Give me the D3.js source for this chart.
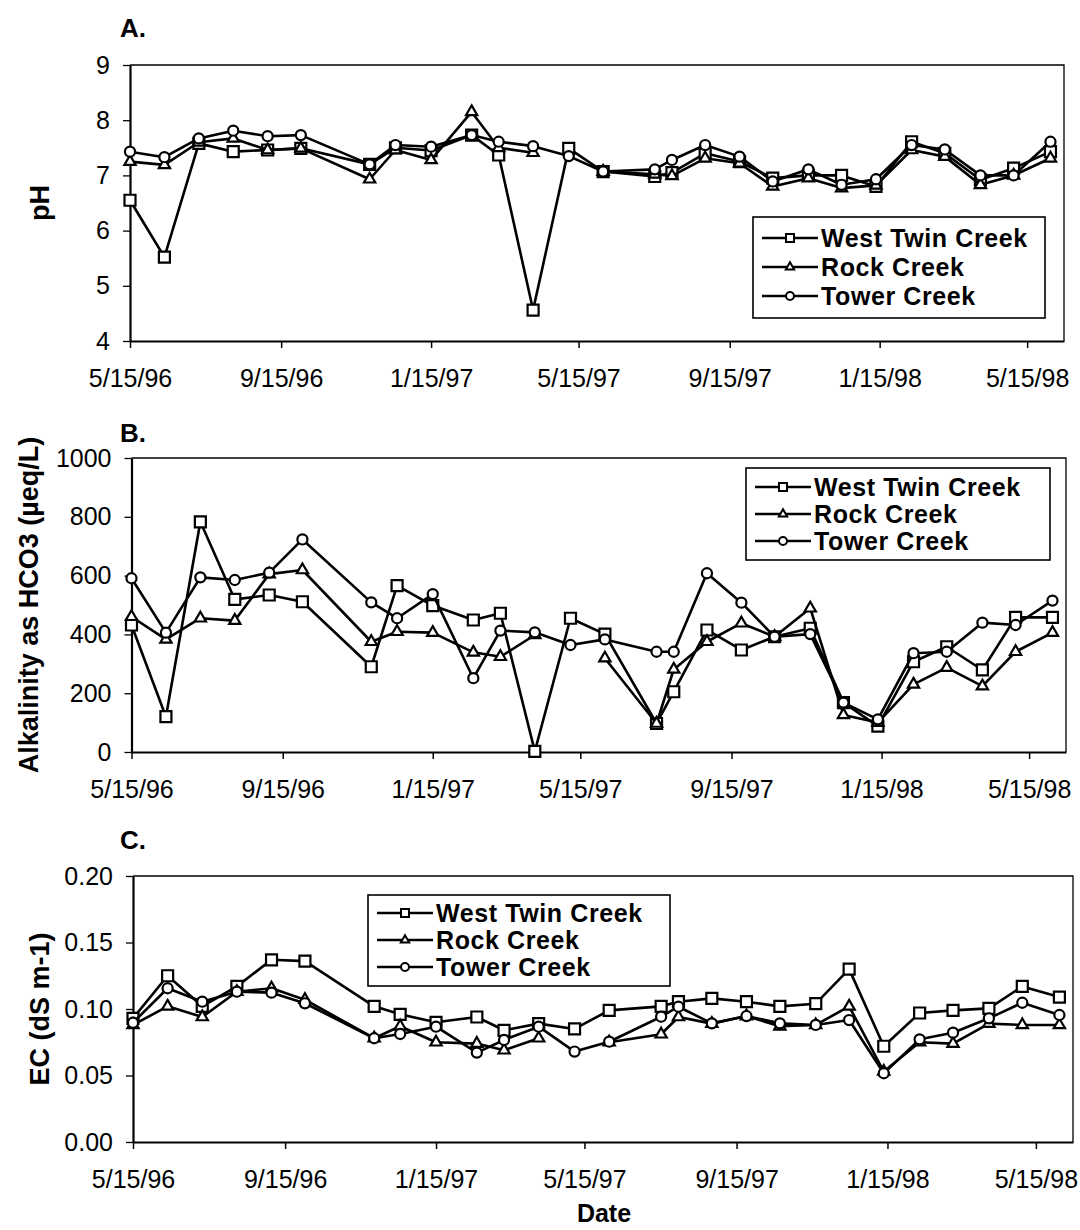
<!DOCTYPE html>
<html>
<head>
<meta charset="utf-8">
<script src="https://cdn.jsdelivr.net/npm/d3@7"></script>
<style>
  body { margin: 0; background: #fff; }
  svg { display: block; font-family: "Liberation Sans", Arial, Helvetica, sans-serif; }
</style>
</head>
<body>
<svg width="1080" height="1230"></svg>
<script>
// sampling dates (shared by the three creeks)
const sampleDates = ["1996-05-15", "1996-06-12", "1996-07-10", "1996-08-07", "1996-09-04", "1996-10-01",
  "1996-11-26", "1996-12-17", "1997-01-15", "1997-02-17", "1997-03-11", "1997-04-08", "1997-05-07",
  "1997-06-04", "1997-07-16", "1997-07-30", "1997-08-26", "1997-09-23", "1997-10-20", "1997-11-18",
  "1997-12-15", "1998-01-12", "1998-02-10", "1998-03-09", "1998-04-07", "1998-05-04", "1998-06-03"];

const seriesNames = ["West Twin Creek", "Rock Creek", "Tower Creek"];
const xTickDates = ["1996-05-15", "1996-09-15", "1997-01-15", "1997-05-15", "1997-09-15", "1998-01-15", "1998-05-15"];

// A. pH
const phWestTwin = [6.55, 5.52, 7.58, 7.43, 7.46, 7.49, 7.2, 7.5, 7.45, 7.73, 7.37, 4.56, 7.49, 7.07,
  6.98, 7.05, 7.4, 7.25, 6.95, 7.0, 7.0, 6.8, 7.61, 7.4, 6.92, 7.13, 7.43];
const phRock = [7.25, 7.19, 7.6, 7.67, 7.46, 7.49, 6.93, 7.46, 7.28, 8.15, 7.5, 7.41, null, 7.07,
  7.02, 6.99, 7.31, 7.22, 6.8, 6.95, 6.77, 6.82, 7.46, 7.34, 6.83, 7.0, 7.31];
const phTower = [7.43, 7.33, 7.67, 7.81, 7.71, 7.73, 7.2, 7.55, 7.52, 7.73, 7.61, 7.53, 7.35, 7.07,
  7.11, 7.28, 7.55, 7.34, 6.89, 7.11, 6.83, 6.93, 7.55, 7.47, 7.0, 7.0, 7.61];
const phTicks = [4, 5, 6, 7, 8, 9];

// B. alkalinity
const alkWestTwin = [432, 120, 783, 519, 534, 511, 290, 566, 498, 449, 472, 2, 455, 401,
  97, 205, 415, 347, 392, 421, 168, 88, 307, 358, 279, 458, 458];
const alkRock = [460, 383, 455, 447, 605, 619, 375, 409, 406, 339, 324, 398, null, 319,
  97, 281, 375, 438, 392, 489, 126, 100, 230, 287, 224, 341, 406];
const alkTower = [591, 406, 594, 585, 610, 723, 509, 455, 537, 251, 413, 407, 364, 383,
  341, 341, 608, 508, 392, 401, 168, 111, 336, 341, 440, 432, 515];
const alkTicks = [0, 200, 400, 600, 800, 1000];

// C. EC
const ecWestTwin = [0.093, 0.125, 0.102, 0.117, 0.137, 0.136, 0.102, 0.096, 0.090, 0.094, 0.084, 0.089, 0.085, 0.099,
  0.102, 0.1055, 0.108, 0.1055, 0.102, 0.104, 0.130, 0.072, 0.097, 0.099, 0.1005, 0.117, 0.109];
const ecRock = [0.088, 0.102, 0.094, 0.113, 0.1156, 0.107, 0.078, 0.087, 0.075, 0.074, 0.069, 0.078, null, 0.075,
  0.081, 0.094, 0.089, 0.0947, 0.087, 0.088, 0.102, 0.053, 0.075, 0.074, 0.089, 0.088, 0.088];
const ecTower = [0.0897, 0.1156, 0.1055, 0.113, 0.1123, 0.1043, 0.078, 0.0812, 0.0867, 0.0672, 0.0767, 0.0867, 0.068, 0.0754,
  0.0942, 0.1017, 0.0892, 0.0947, 0.0892, 0.088, 0.0917, 0.0517, 0.0772, 0.0822, 0.093, 0.1047, 0.0955];
const ecTicks = [0, 0.05, 0.10, 0.15, 0.20];

const parseDate = d3.timeParse("%Y-%m-%d");
const dates = sampleDates.map(parseDate);
const xDomain = [parseDate("1996-05-15"), parseDate("1998-06-14")];
const fmtDate = d3.timeFormat("%-m/%-d/%y");

const panels = [
  { letter: "A.", letterY: 37, title: "pH", titleX: 49, top: 65, bottom: 341, left: 130, right: 1064,
    domain: [4, 9], ticks: phTicks, fmt: d3.format("d"), series: [phWestTwin, phRock, phTower],
    legend: { x: 753, y: 217, w: 292, h: 101, first: 21, gap: 29 } },
  { letter: "B.", letterY: 442, title: "Alkalinity as HCO3 (\u00b5eq/L)", titleX: 38, top: 458, bottom: 752, left: 131.5, right: 1066,
    domain: [0, 1000], ticks: alkTicks, fmt: d3.format("d"), series: [alkWestTwin, alkRock, alkTower],
    legend: { x: 746, y: 468, w: 304, h: 92, first: 19, gap: 27 } },
  { letter: "C.", letterY: 849, title: "EC (dS m-1)", titleX: 49, top: 876, bottom: 1142, left: 133, right: 1073,
    domain: [0, 0.2], ticks: ecTicks, fmt: d3.format(".2f"), series: [ecWestTwin, ecRock, ecTower],
    legend: { x: 368, y: 895, w: 302, h: 91, first: 18, gap: 27 } }
];

const symbolTypes = [d3.symbolSquare, d3.symbolTriangle, d3.symbolCircle];
const symbolSizes = [121, 55, 80];
const legendSizes = [64, 30, 50];

const svg = d3.select("svg");

panels.forEach(p => {
  const x = d3.scaleTime().domain(xDomain).range([p.left, p.right]);
  const y = d3.scaleLinear().domain(p.domain).range([p.bottom, p.top]);
  const g = svg.append("g");

  // frame: thin top / right border
  g.append("path")
    .attr("d", `M${p.left},${p.top}H${p.right}V${p.bottom}`)
    .attr("fill", "none").attr("stroke", "#000").attr("stroke-width", 1.3);

  const yAxis = g.append("g")
    .attr("transform", `translate(${p.left},0)`)
    .call(d3.axisLeft(y).tickValues(p.ticks).tickFormat(p.fmt).tickSize(7).tickSizeOuter(0).tickPadding(13));
  yAxis.select(".domain").attr("stroke-width", 2.2);
  yAxis.selectAll(".tick line").attr("stroke-width", 1.3);
  yAxis.selectAll("text").attr("font-size", 25).attr("fill", "#000").attr("font-family", null);

  const xAxis = g.append("g")
    .attr("transform", `translate(0,${p.bottom})`)
    .call(d3.axisBottom(x).tickValues(xTickDates.map(parseDate)).tickFormat(fmtDate)
      .tickSize(7).tickSizeOuter(0).tickPadding(21));
  xAxis.select(".domain").attr("stroke-width", 2.2);
  xAxis.selectAll(".tick line").attr("stroke-width", 1.5);
  xAxis.selectAll("text").attr("font-size", 25).attr("fill", "#000").attr("font-family", null);

  // panel letter
  svg.append("text")
    .attr("x", 120).attr("y", p.letterY)
    .attr("font-size", 26).attr("font-weight", "bold")
    .text(p.letter);

  // y title
  const cy = (p.top + p.bottom) / 2;
  svg.append("text")
    .attr("transform", `translate(${p.titleX},${cy}) rotate(-90)`)
    .attr("text-anchor", "middle")
    .attr("font-size", 27).attr("font-weight", "bold")
    .text(p.title);

  // series
  p.series.forEach((vals, si) => {
    const pts = vals.map((v, i) => ({ d: dates[i], v: v }));
    const line = d3.line()
      .defined(d => d.v != null)
      .x(d => x(d.d)).y(d => y(d.v));
    g.append("path")
      .datum(pts)
      .attr("d", line)
      .attr("fill", "none").attr("stroke", "#000").attr("stroke-width", 2.6)
      .attr("stroke-linejoin", "round");
    g.selectAll(null)
      .data(pts.filter(d => d.v != null))
      .enter().append("path")
      .attr("transform", d => `translate(${x(d.d)},${y(d.v)})`)
      .attr("d", d3.symbol(symbolTypes[si], symbolSizes[si]))
      .attr("fill", "#fff").attr("stroke", "#000").attr("stroke-width", 2.2);
  });

  // legend
  const L = p.legend;
  const lg = svg.append("g");
  lg.append("rect")
    .attr("x", L.x).attr("y", L.y).attr("width", L.w).attr("height", L.h)
    .attr("fill", "#fff").attr("stroke", "#000").attr("stroke-width", 1.6);
  seriesNames.forEach((name, si) => {
    const ry = L.y + L.first + si * L.gap;
    lg.append("line")
      .attr("x1", L.x + 9).attr("x2", L.x + 65).attr("y1", ry).attr("y2", ry)
      .attr("stroke", "#000").attr("stroke-width", 2.6);
    lg.append("path")
      .attr("transform", `translate(${L.x + 37},${ry})`)
      .attr("d", d3.symbol(symbolTypes[si], legendSizes[si]))
      .attr("fill", "#fff").attr("stroke", "#000").attr("stroke-width", 2);
    lg.append("text")
      .attr("x", L.x + 68).attr("y", ry + 9)
      .attr("font-size", 25).attr("font-weight", "bold")
      .attr("letter-spacing", 0.6)
      .text(name);
  });
});

svg.append("text")
  .attr("x", 604).attr("y", 1222)
  .attr("text-anchor", "middle")
  .attr("font-size", 25).attr("font-weight", "bold")
  .text("Date");
</script>
</body>
</html>
